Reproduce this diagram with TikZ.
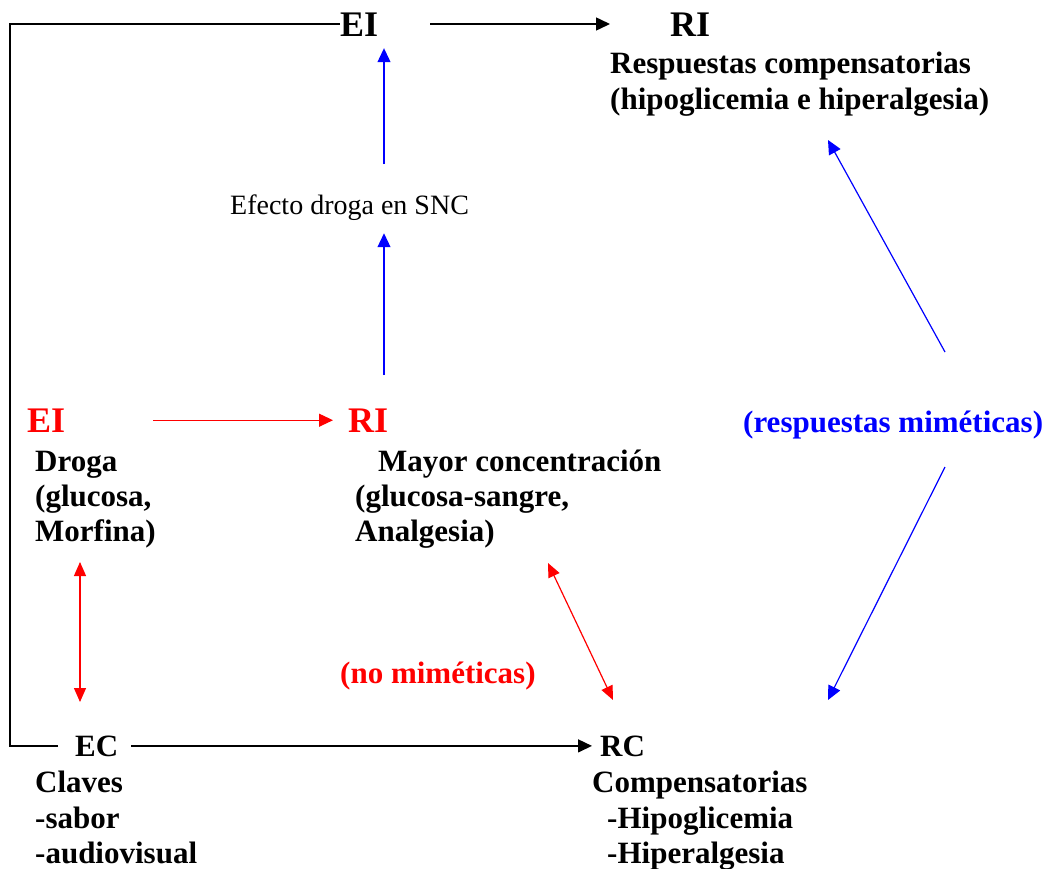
\documentclass[tikz,border=0pt]{standalone}
\usepackage{fontspec}
\setmainfont{Liberation Serif}
\usetikzlibrary{arrows.meta}

\tikzset{
  txt/.style={inner sep=0pt, anchor=base west, font=\fontsize{31}{35}\selectfont\bfseries},
  big/.style={txt, font=\fontsize{36}{40}\selectfont\bfseries},
  flecha/.style={line width=1.5pt, -{Triangle[length=14pt,width=13pt]}},
  doble/.style={line width=1.5pt, {Triangle[length=14pt,width=12pt]}-{Triangle[length=14pt,width=12pt]}},
}

\begin{document}
\begin{tikzpicture}[x=1pt, y=-1pt]
    \useasboundingbox (0,0) rectangle (1049,868);
    % upper row
    \node[big] (eiTop) at (340,36) {EI};
    \node[big] (riTop) at (670,36) {RI};
    \node[txt] (resp) at (610,73) {Respuestas compensatorias};
    \node[txt] (hipo) at (610,109) {(hipoglicemia e hiperalgesia)};
    % drug effect
    \node[txt, font=\fontsize{28}{32}\selectfont] (efecto) at (230,214) {Efecto droga en SNC};
    % middle row
    \node[big, text=red] (eiRed) at (27,432) {EI};
    \node[big, text=red] (riRed) at (348,432) {RI};
    \node[txt] (droga) at (35,471) {Droga};
    \node[txt] (gluc) at (35,506) {(glucosa,};
    \node[txt] (morf) at (35,541) {Morfina)};
    \node[txt] (mayor) at (378,471) {Mayor concentración};
    \node[txt] (sangre) at (355,506) {(glucosa-sangre,};
    \node[txt] (analg) at (355,541) {Analgesia)};
    \node[txt, text=blue] (mimet) at (743,432) {(respuestas miméticas)};
    \node[txt, text=red] (nomimet) at (340,683) {(no miméticas)};
    % lower row
    \node[txt] (ec) at (75,756) {EC};
    \node[txt] (rc) at (600,756) {RC};
    \node[txt] (claves) at (35,792) {Claves};
    \node[txt] (sabor) at (35,828) {-sabor};
    \node[txt] (audio) at (35,863) {-audiovisual};
    \node[txt] (comp) at (592,792) {Compensatorias};
    \node[txt] (hipog) at (607,828) {-Hipoglicemia};
    \node[txt] (hiper) at (607,863) {-Hiperalgesia};
    % free ends
    \coordinate (esq) at (10,24);
    \coordinate (axis) at (384,0);
    \coordinate (dA) at (80,562);
    \coordinate (dB) at (80,702);
    \coordinate (nA) at (548,563);
    \coordinate (nB) at (613,700);
    \coordinate (mA) at (945,352);
    \coordinate (mB) at (828,140);
    \coordinate (mC) at (945,467);
    \coordinate (mD) at (828,700);
    % black connectors
    \draw[flecha, shorten <=52pt, shorten >=60pt] (eiTop.east |- esq) -- (riTop.west |- esq);
    \draw[flecha, shorten <=13pt, shorten >=8pt] (ec.east) -- (rc.west);
    \draw[line width=1.5pt, shorten <=17pt] (ec.west) -| (esq) -- (esq -| eiTop.west);
    % blue connectors
    \draw[flecha, blue, line width=1.2pt, shorten <=30pt, shorten >=12pt] (efecto.north -| axis) -- (eiTop.south -| axis);
    \draw[flecha, blue, line width=1.2pt, shorten <=33pt, shorten >=13pt] (riRed.north -| axis) -- (efecto.south -| axis);
    \draw[flecha, blue, line width=1.2pt] (mA) -- (mB);
    \draw[flecha, blue, line width=1.2pt] (mC) -- (mD);
    % red connectors
    \draw[flecha, red, line width=1.2pt, shorten <=88pt, shorten >=15pt] (eiRed.east) -- (riRed.west);
    \draw[doble, red, line width=1.2pt] (dA) -- (dB);
    \draw[doble, red, line width=1.2pt] (nA) -- (nB);
\end{tikzpicture}
\end{document}
